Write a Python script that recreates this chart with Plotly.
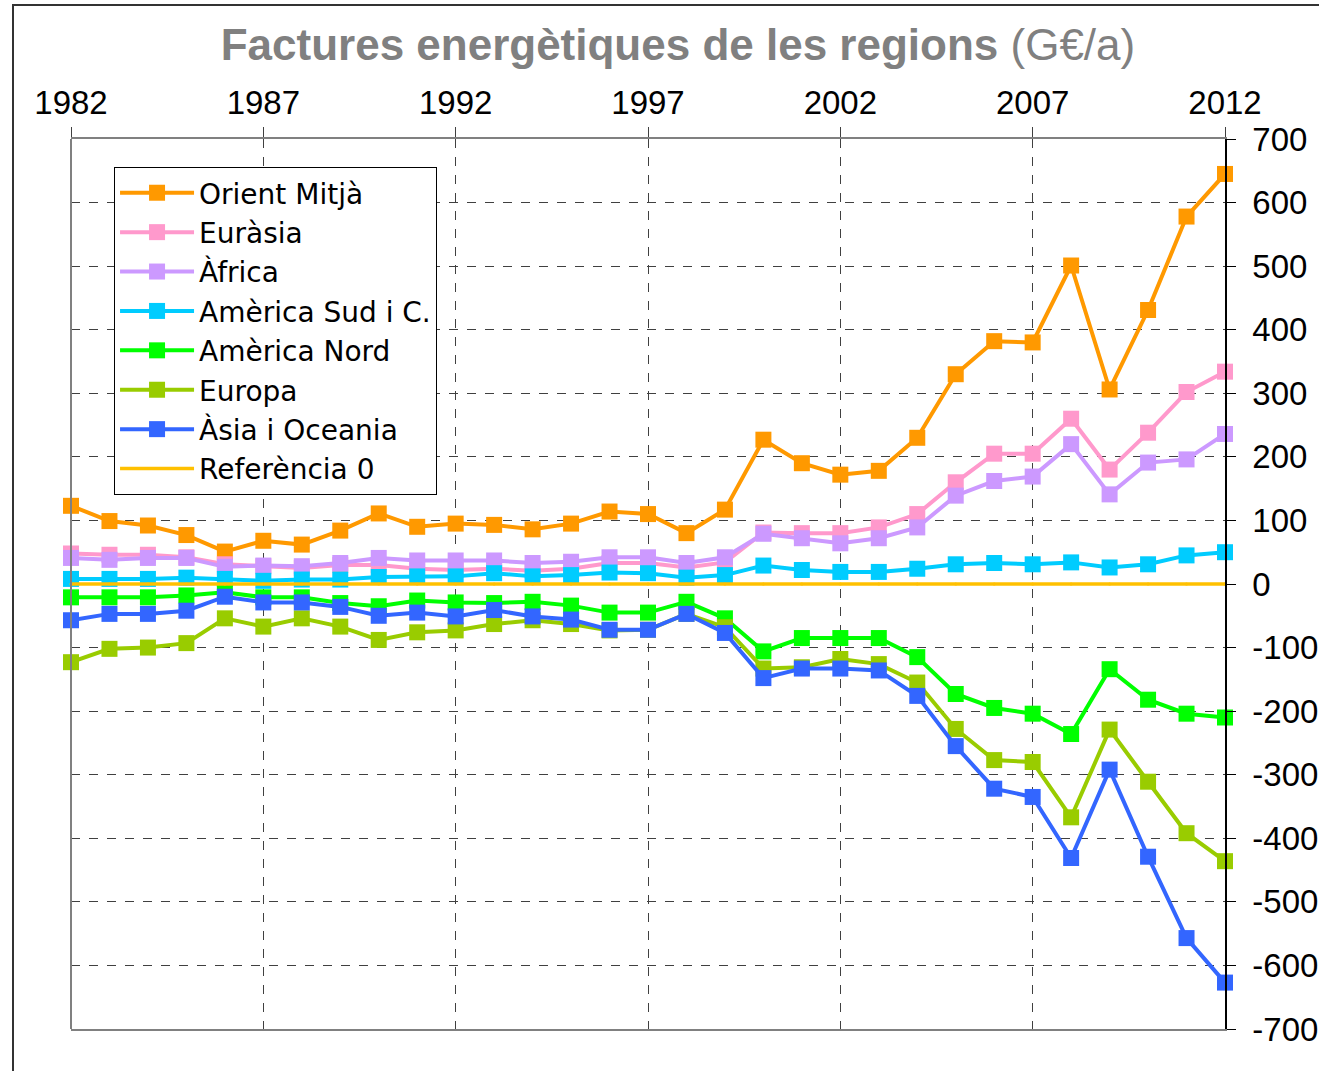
import plotly.graph_objects as go

years = list(range(1982, 2013))

orient_mitja = [123, 99, 92, 77, 51, 68, 62, 84, 111, 90, 95, 93, 86, 95, 114, 110, 80, 117,
                227, 190, 172, 178, 230, 330, 382, 380, 501, 306, 431, 578, 645]
eurasia = [48, 46, 46, 42, 31, 28, 25, 30, 30, 24, 22, 24, 21, 24, 33, 33, 26, 34,
           81, 80, 80, 89, 110, 160, 205, 205, 260, 180, 238, 302, 334]
africa = [41, 38, 41, 41, 27, 29, 28, 33, 41, 37, 37, 37, 33, 35, 42, 42, 33, 42,
          79, 72, 64, 72, 89, 139, 162, 169, 220, 141, 191, 196, 236]
america_sud = [8, 8, 8, 10, 8, 5, 7, 7, 11, 12, 12, 17, 12, 14, 18, 17, 10, 14,
               29, 22, 19, 19, 24, 31, 33, 31, 34, 26, 31, 45, 50]
america_nord = [-21, -21, -21, -18, -13, -21, -21, -30, -35, -26, -29, -30, -28, -34, -45, -45, -28, -54,
                -106, -85, -85, -85, -115, -173, -195, -204, -236, -134, -182, -204, -210]
europa = [-123, -102, -100, -93, -54, -67, -54, -67, -88, -76, -73, -63, -57, -63, -73, -72, -47, -68,
          -133, -131, -118, -126, -155, -228, -277, -280, -367, -229, -311, -392, -436]
asia_oceania = [-57, -47, -47, -42, -20, -29, -29, -36, -50, -45, -51, -41, -51, -56, -72, -72, -47, -77,
                -148, -133, -133, -136, -176, -255, -322, -335, -431, -292, -429, -557, -627]
referencia_0 = [0, 0, 0, 0, 0, 0, 0, 0, 0, 0, 0, 0, 0, 0, 0, 0, 0, 0, 0, 0, 0, 0, 0, 0, 0, 0, 0, 0, 0, 0, 0]

series = [
    ("Orient Mitjà", orient_mitja, "#FF9900"),
    ("Euràsia", eurasia, "#FF99CC"),
    ("Àfrica", africa, "#CC99FF"),
    ("Amèrica Sud i C.", america_sud, "#00CCFF"),
    ("Amèrica Nord", america_nord, "#00FF00"),
    ("Europa", europa, "#99CC00"),
    ("Àsia i Oceania", asia_oceania, "#3366FF"),
]

x_ticks = [1982, 1987, 1992, 1997, 2002, 2007, 2012]
y_ticks = list(range(-700, 701, 100))

fig = go.Figure()

for i, (name, vals, col) in enumerate(series):
    fig.add_trace(go.Scatter(
        x=years, y=vals, name=name, mode="lines+markers",
        line=dict(color=col, width=4),
        marker=dict(symbol="square", size=16, color=col),
        cliponaxis=False, legendrank=i + 1,
    ))

fig.add_trace(go.Scatter(
    x=years, y=referencia_0, name="Referència 0", mode="lines+markers",
    line=dict(color="#FFC000", width=3.5),
    marker=dict(symbol="circle", size=3, color="#FFC000"),
    cliponaxis=False, legendrank=8,
))

font = "Liberation Sans, Arial, sans-serif"

fig.update_layout(
    width=1319, height=1071,
    margin=dict(l=71, r=94, t=139, b=42, autoexpand=False),
    paper_bgcolor="white", plot_bgcolor="white",
    font=dict(family=font, size=31, color="black"),
    title=dict(
        text="<b>Factures energètiques de les regions</b> (G€/a)",
        x=0.514, xanchor="center", y=1 - 45 / 1071, yanchor="middle",
        font=dict(family=font, size=44, color="#808080"),
    ),
    showlegend=True,
    legend=dict(
        x=0.0373, y=0.9685, xanchor="left", yanchor="top",
        bgcolor="white", bordercolor="black", borderwidth=1,
        font=dict(family="DejaVu Sans, sans-serif", size=28, color="black"),
        itemwidth=74, tracegroupgap=0,
    ),
    xaxis=dict(
        range=[1982, 2012], side="top", automargin=False,
        tickvals=x_ticks, ticktext=[str(v) for v in x_ticks],
        ticks="outside", ticklen=10, tickcolor="#404040", tickwidth=1,
        showline=True, linecolor="#808080", linewidth=2, mirror=True,
        showgrid=True, gridcolor="#404040", gridwidth=1, griddash="dash",
        zeroline=False, tickfont=dict(size=33),
    ),
    yaxis=dict(
        range=[-700, 700], side="right", automargin=False,
        tickvals=y_ticks, ticktext=[str(v) for v in y_ticks],
        ticks="outside", ticklen=9, tickcolor="black", tickwidth=1,
        ticklabelstandoff=10,
        showline=True, linecolor="black", linewidth=1.5,
        showgrid=True, gridcolor="#404040", gridwidth=1, griddash="dash",
        zeroline=False, tickfont=dict(size=33),
    ),
    shapes=[
        dict(type="line", xref="paper", yref="paper", x0=0, x1=0, y0=0, y1=1,
             line=dict(color="#808080", width=2), layer="above"),
        dict(type="rect", xref="paper", yref="paper",
             x0=(13 - 71) / 1154, x1=1.2, y0=-0.1, y1=(1029 - 5) / 890,
             line=dict(color="#333333", width=2), layer="below"),
    ],
)

fig.write_html("out.html", config={"displayModeBar": False},
               post_script="document.body.style.margin='0';")
